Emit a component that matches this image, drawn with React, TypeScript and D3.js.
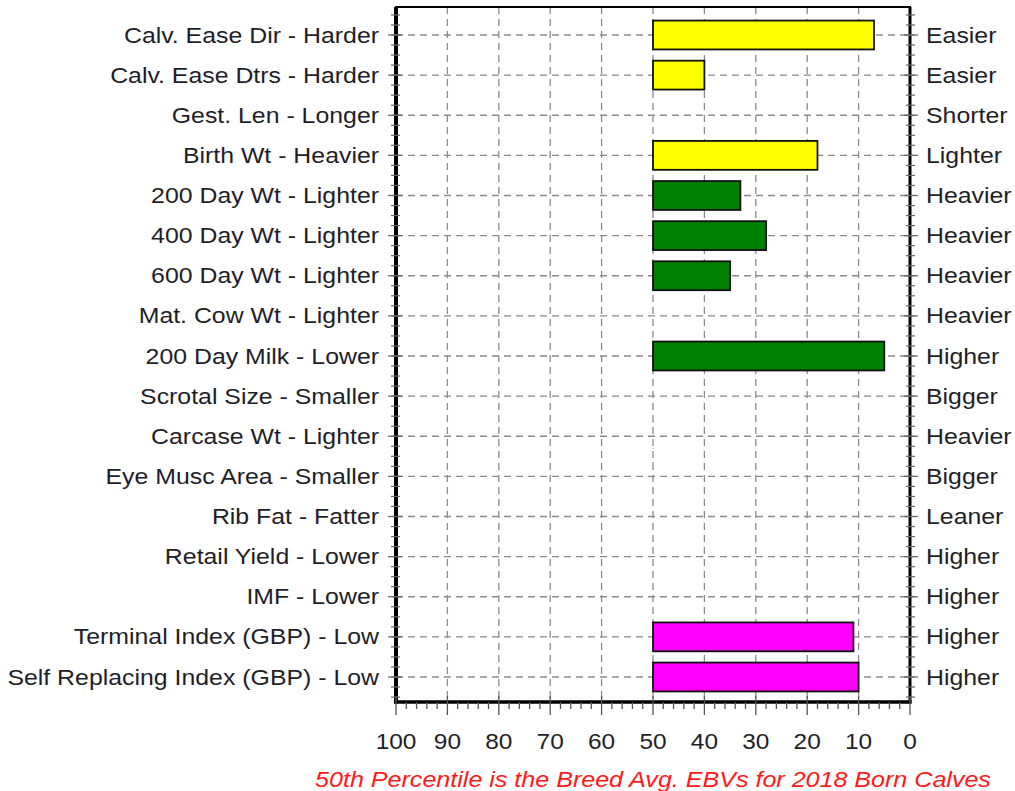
import React from 'react';
import * as d3 from 'd3';

const traits = [
  'Calv. Ease Dir - Harder',
  'Calv. Ease Dtrs - Harder',
  'Gest. Len - Longer',
  'Birth Wt - Heavier',
  '200 Day Wt - Lighter',
  '400 Day Wt - Lighter',
  '600 Day Wt - Lighter',
  'Mat. Cow Wt - Lighter',
  '200 Day Milk - Lower',
  'Scrotal Size - Smaller',
  'Carcase Wt - Lighter',
  'Eye Musc Area - Smaller',
  'Rib Fat - Fatter',
  'Retail Yield - Lower',
  'IMF - Lower',
  'Terminal Index (GBP) - Low',
  'Self Replacing Index (GBP) - Low',
];
const rightLabels = [
  'Easier', 'Easier', 'Shorter', 'Lighter', 'Heavier', 'Heavier', 'Heavier', 'Heavier',
  'Higher', 'Bigger', 'Heavier', 'Bigger', 'Leaner', 'Higher', 'Higher', 'Higher', 'Higher',
];
// percentile (null = no bar)
const percentiles: (number | null)[] = [7, 40, null, 18, 33, 28, 35, null, 5, 50, 50, 50, null, null, null, 11, 10];
const groups = ['calving', 'calving', 'calving', 'calving', 'growth', 'growth', 'growth', 'growth',
  'growth', 'growth', 'carcase', 'carcase', 'carcase', 'carcase', 'carcase', 'index', 'index'];
const groupColors: Record<string, string> = {
  calving: '#ffff00',
  growth: '#008000',
  carcase: '#008000',
  index: '#ff00ff',
};
const xTicks = [100, 90, 80, 70, 60, 50, 40, 30, 20, 10, 0];
const footnote = '50th Percentile is the Breed Avg. EBVs for 2018 Born Calves';

const W = 1015;
const H = 791;
const left = 396;
const right = 910;
const top = 7;
const bottom = 702;

function Label({ x, y, anchor, children, size = 22, sx = 1.13, ...rest }: any) {
  return (
    <text transform={`translate(${x},${y}) scale(${sx},1)`} textAnchor={anchor} fontSize={size} {...rest}>
      {children}
    </text>
  );
}

export default function App() {
  const x = d3.scaleLinear().domain([100, 0]).range([left, right]);
  const y = d3.scalePoint<string>().domain(traits).range([35, 677]);
  const step = y.step();
  const barH = step * 0.72;
  const minorX = d3.range(0, 101, 2).filter(v => v % 10 !== 0);
  const minorY = d3.range(-2, traits.length * 4 + 2).map(k => 35 + (k * step) / 4)
    .filter(v => v > top + 2 && v < bottom - 2);
  const font = '"Liberation Sans", Arial, sans-serif';

  return (
    <div style={{ position: 'fixed', left: 0, top: 0 }}>
      <svg width={W} height={H} style={{ display: 'block', background: '#fff' }}>
        {/* grid */}
        <g stroke="#8a8a8a" strokeWidth={1.3} strokeDasharray="7,5">
          {xTicks.filter(t => t !== 100 && t !== 0).map(t => (
            <line key={t} x1={x(t)} x2={x(t)} y1={top} y2={bottom} />
          ))}
          {traits.map(t => (
            <line key={t} x1={left} x2={right} y1={y(t)} y2={y(t)} />
          ))}
        </g>
        {/* bars */}
        <g>
          {traits.map((t, i) => {
            const p = percentiles[i];
            if (p === null) return null;
            const x0 = x(50);
            const x1 = x(p);
            if (p === 50) {
              return (
                <line key={t} x1={x0} x2={x0} y1={(y(t) as number) - barH / 2} y2={(y(t) as number) + barH / 2}
                  stroke="#999" strokeWidth={1} strokeDasharray="1,12" />
              );
            }
            return (
              <rect key={t} x={Math.min(x0, x1)} y={(y(t) as number) - barH / 2}
                width={Math.abs(x1 - x0)} height={barH}
                fill={groupColors[groups[i]]} stroke="#111" strokeWidth={1.8} />
            );
          })}
        </g>
        {/* frame */}
        <rect x={left} y={top} width={right - left} height={bottom - top} fill="none" stroke="#000" strokeWidth={2} />
        <line x1={left} x2={left} y1={top} y2={bottom + 1.5} stroke="#000" strokeWidth={4} />
        <line x1={right} x2={right} y1={top} y2={bottom + 1.5} stroke="#000" strokeWidth={3} />
        <line x1={left - 2} x2={right + 1.5} y1={bottom} y2={bottom} stroke="#000" strokeWidth={3.5} />
        {/* left / right ticks */}
        <g stroke="#666" strokeWidth={1.2}>
          {minorY.map((v, i) => (
            <g key={i}>
              <line x1={left - 5} x2={left + 4} y1={v} y2={v} />
              <line x1={right - 4} x2={right + 5} y1={v} y2={v} />
            </g>
          ))}
          {traits.map(t => (
            <g key={t}>
              <line x1={left - 8} x2={left + 6} y1={y(t)} y2={y(t)} />
              <line x1={right - 6} x2={right + 8} y1={y(t)} y2={y(t)} />
            </g>
          ))}
        </g>
        {/* bottom ticks */}
        <g stroke="#555" strokeWidth={1.3}>
          {xTicks.map(t => (
            <line key={t} x1={x(t)} x2={x(t)} y1={bottom - 6} y2={bottom + 13} />
          ))}
          {minorX.map(t => (
            <line key={t} x1={x(t)} x2={x(t)} y1={bottom} y2={bottom + 7} />
          ))}
        </g>
        {/* labels */}
        <g fontFamily={font} fill="#1e1e28">
          {traits.map(t => (
            <Label key={t} x={left - 17} y={(y(t) as number) + 7.5} anchor="end">{t}</Label>
          ))}
          {traits.map((t, i) => (
            <Label key={t} x={right + 16} y={(y(t) as number) + 7.5} anchor="start">{rightLabels[i]}</Label>
          ))}
          {xTicks.map(t => (
            <Label key={t} x={x(t)} y={749} anchor="middle" sx={1.11}>{t}</Label>
          ))}
        </g>
        <Label x={x(50)} y={787} anchor="middle" fontFamily={font} sx={1.14}
          fontStyle="italic" fill="#ff1a1a">{footnote}</Label>
      </svg>
    </div>
  );
}
